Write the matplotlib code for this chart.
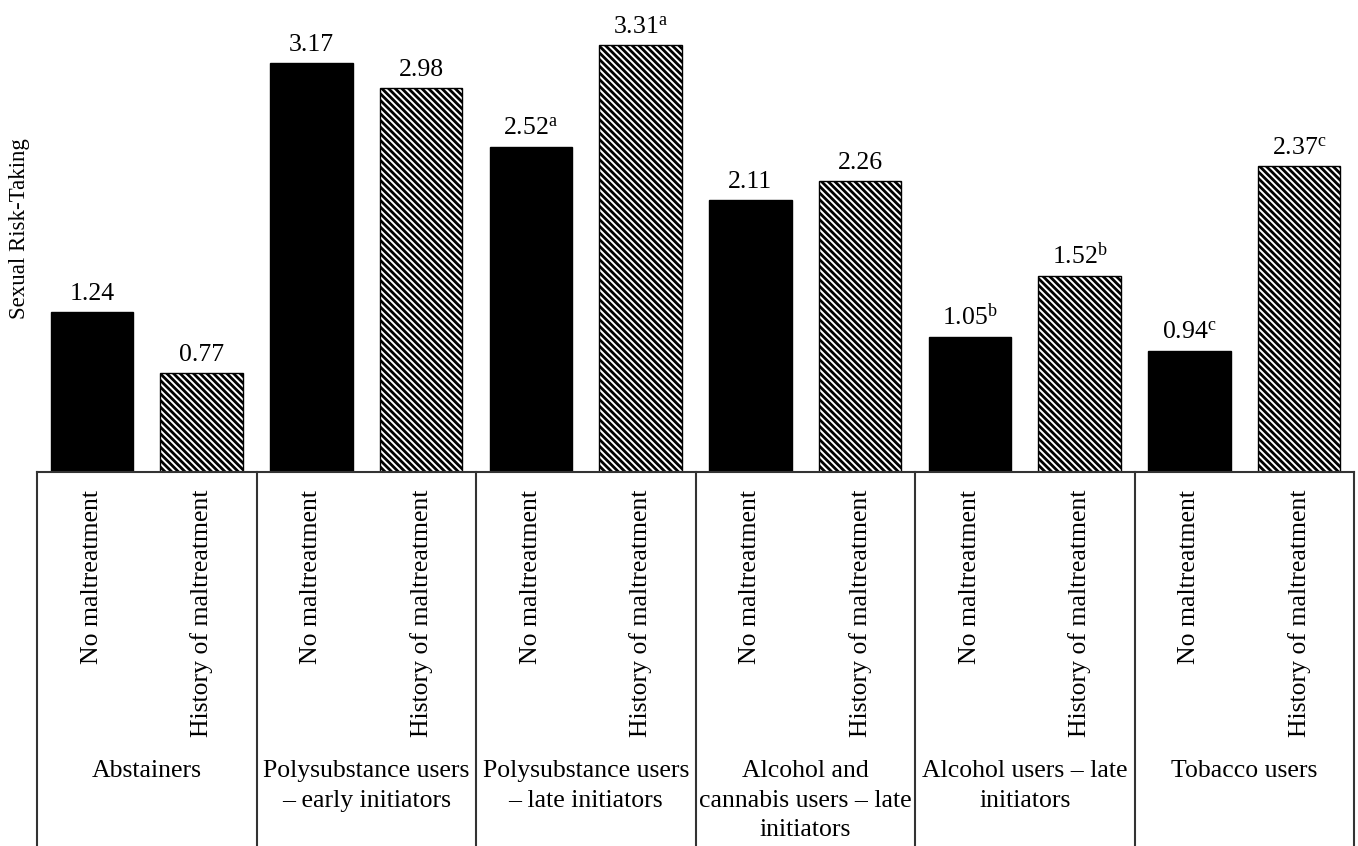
import matplotlib.pyplot as plt
import matplotlib.transforms as mtransforms
import numpy as np

plt.rcParams['font.family'] = ['Liberation Serif', 'DejaVu Serif']
plt.rcParams['mathtext.fontset'] = 'custom'
plt.rcParams['mathtext.rm'] = 'Liberation Serif'
plt.rcParams['mathtext.it'] = 'Liberation Serif:italic'
plt.rcParams['hatch.linewidth'] = 2.0

groups = ['Abstainers',
          'Polysubstance users\n\u2013 early initiators',
          'Polysubstance users\n\u2013 late initiators',
          'Alcohol and\ncannabis users \u2013 late\ninitiators',
          'Alcohol users \u2013 late\ninitiators',
          'Tobacco users']
conditions = ['No maltreatment', 'History of maltreatment']
no_maltreat = [1.24, 3.17, 2.52, 2.11, 1.05, 0.94]
hist_maltreat = [0.77, 2.98, 3.31, 2.26, 1.52, 2.37]
no_sup = ['', '', 'a', '', 'b', 'c']
hist_sup = ['', '', 'a', '', 'b', 'c']

fs = 18.5

fig = plt.figure(figsize=(13.58, 8.46), dpi=100)
# axes spans from top of figure down to the table top line
ax = fig.add_axes([37 / 1358, (846 - 472) / 846, (1354 - 37) / 1358, 472 / 846])

x = np.arange(len(groups))
w = 0.375
off = 0.25

b1 = ax.bar(x - off, no_maltreat, w, color='black', edgecolor='black', linewidth=1)
b2 = ax.bar(x + off, hist_maltreat, w, color='white', edgecolor='black',
            linewidth=1, hatch='\\' * 5)

for bars, vals, sups in [(b1, no_maltreat, no_sup), (b2, hist_maltreat, hist_sup)]:
    for rect, v, s in zip(bars, vals, sups):
        lab = '%.2f' % v
        if s:
            lab += r'$^{\mathrm{%s}}$' % s
        ax.annotate(lab, (rect.get_x() + rect.get_width() / 2, v),
                    xytext=(0, 5), textcoords='offset points',
                    ha='center', va='bottom', fontsize=fs)

ax.set_xlim(-0.5, len(groups) - 0.5)
ax.set_ylim(0, 3.66)
for s in ['top', 'right', 'left']:
    ax.spines[s].set_visible(False)
ax.spines['bottom'].set_color('#333333')
ax.spines['bottom'].set_linewidth(1.5)
ax.set_xticks([])
ax.set_yticks([])

# table below the bars
trans = mtransforms.blended_transform_factory(ax.transData, ax.transAxes)
tbl_bottom = -(846 - 472) / 472
for xe in np.arange(-0.5, len(groups), 1.0):
    ax.plot([xe, xe], [0, tbl_bottom], color='#333333', lw=1.5,
            transform=trans, clip_on=False)

for i, g in enumerate(groups):
    ax.text(i - off, -0.038, conditions[0], rotation=90, ha='center', va='top',
            fontsize=fs, transform=trans)
    ax.text(i + off, -0.038, conditions[1], rotation=90, ha='center', va='top',
            fontsize=fs, transform=trans)
    ax.text(i, -0.610, g, ha='center', va='top', fontsize=fs,
            linespacing=1.45, transform=trans)

fig.text(20 / 1358, (846 - 229) / 846, 'Sexual Risk-Taking', rotation=90,
         ha='center', va='center', fontsize=16.5)

plt.savefig('out.png', dpi=100)
